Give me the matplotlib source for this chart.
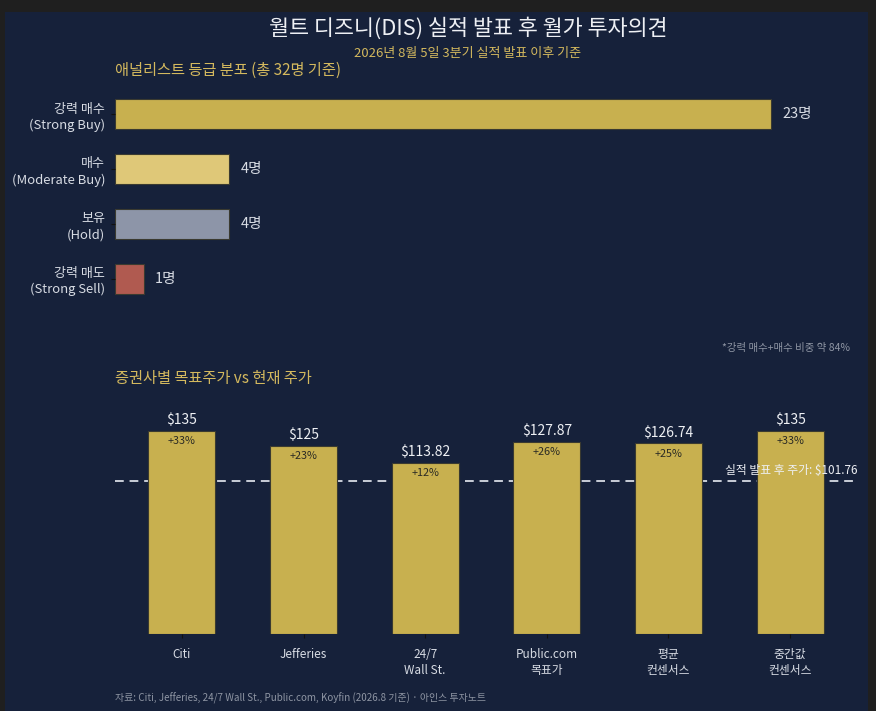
import matplotlib
matplotlib.use("Agg")
import matplotlib.pyplot as plt
from matplotlib.patches import Rectangle

plt.rcParams["font.family"] = ["Noto Sans CJK KR", "DejaVu Sans"]

# --- data ---
rating_labels = ["강력 매수\n(Strong Buy)", "매수\n(Moderate Buy)", "보유\n(Hold)", "강력 매도\n(Strong Sell)"]
rating_counts = [23, 4, 4, 1]
rating_colors = ["#c8b04f", "#dfc878", "#8d95a8", "#b05a50"]

firms = ["Citi", "Jefferies", "24/7\nWall St.", "Public.com\n목표가", "평균\n컨센서스", "중간값\n컨센서스"]
targets = [135, 125, 113.82, 127.87, 126.74, 135]
target_texts = ["$135", "$125", "$113.82", "$127.87", "$126.74", "$135"]
upside = ["+33%", "+23%", "+12%", "+26%", "+25%", "+33%"]
current_price = 101.76

NAVY = "#16213a"
GOLD = "#c8b04f"
TXT = "#d8dce4"
MUTED = "#8e95a3"

W, H = 876, 711
fig = plt.figure(figsize=(W / 100, H / 100), dpi=100, facecolor="#1f1f1f")
fig.patches.append(Rectangle((5 / W, 0), 863 / W, 1 - 12 / H, transform=fig.transFigure,
                             facecolor=NAVY, edgecolor="none", zorder=-10))


def px_axes(left, top, right, bottom):
    return fig.add_axes([left / W, 1 - bottom / H, (right - left) / W, (bottom - top) / H])


# --- titles ---
fig.text(468 / W, 1 - 28 / H, "월트 디즈니(DIS) 실적 발표 후 월가 투자의견", ha="center", va="center",
         fontsize=15.7, color="#eef0f4")
fig.text(468 / W, 1 - 53 / H, "2026년 8월 5일 3분기 실적 발표 이후 기준", ha="center", va="center",
         fontsize=9.4, color="#d4b95e")
fig.text(115 / W, 1 - 70 / H, "애널리스트 등급 분포 (총 32명 기준)", ha="left", va="center",
         fontsize=11, color="#d4b95e")

# --- rating distribution ---
ax1 = px_axes(115, 87, 840, 306)
ax1.set_facecolor("none")
ypos = range(len(rating_counts))
ax1.barh(ypos, rating_counts, height=0.55, color=rating_colors, edgecolor="#3a3a30", linewidth=0.8)
for y, v in zip(ypos, rating_counts):
    ax1.text(v + 0.4, y, f"{v}명", va="center", ha="left", fontsize=10.5, color=TXT)
ax1.set_xlim(0, 25.42)
ax1.set_ylim(3.5, -0.5)
ax1.set_yticks(list(ypos))
ax1.set_yticklabels(rating_labels, fontsize=9.4, color=TXT, linespacing=1.3)
ax1.set_xticks([])
ax1.tick_params(axis="y", length=3, color="#111111", pad=4)
for s in ax1.spines.values():
    s.set_visible(False)

fig.text(850 / W, 1 - 348 / H, "*강력 매수+매수 비중 약 84%", ha="right", va="center",
         fontsize=7.5, color=MUTED)
fig.text(115 / W, 1 - 379 / H, "증권사별 목표주가 vs 현재 주가", ha="left", va="center",
         fontsize=11, color="#d4b95e")

# --- target prices ---
ax2 = px_axes(115, 401, 857, 634)
ax2.set_facecolor("none")
xpos = range(len(targets))
ax2.bar(xpos, targets, width=0.55, color=GOLD, edgecolor="#3a3a30", linewidth=0.8, zorder=2)
ax2.axhline(current_price, color="#c9ced8", linestyle="--", linewidth=1.4, dashes=(4.5, 3), zorder=1)
for x, v, t, u in zip(xpos, targets, target_texts, upside):
    ax2.text(x, v + 2.5, t, ha="center", va="bottom", fontsize=10, color="#eef0f4", zorder=3)
    ax2.text(x, v - 3.5, u, ha="center", va="top", fontsize=7.8, color="#2a2a24", zorder=3)
ax2.text(5.55, current_price + 2.5, f"실적 발표 후 주가: ${current_price}", ha="right", va="bottom",
         fontsize=8.5, color="#eef0f4", zorder=4)
ax2.set_xlim(-0.55, 5.55)
ax2.set_ylim(0, 155)
ax2.set_xticks(list(xpos))
ax2.set_xticklabels(firms, fontsize=8.5, color=TXT, linespacing=1.35)
ax2.set_yticks([])
ax2.tick_params(axis="x", length=3, color="#111111", pad=7)
for s in ax2.spines.values():
    s.set_visible(False)

fig.text(115 / W, 1 - 698 / H,
         "자료: Citi, Jefferies, 24/7 Wall St., Public.com, Koyfin (2026.8 기준) · 아인스 투자노트",
         ha="left", va="center", fontsize=7.1, color=MUTED)

fig.savefig("out.png", dpi=100, facecolor=fig.get_facecolor())
plt.close(fig)
